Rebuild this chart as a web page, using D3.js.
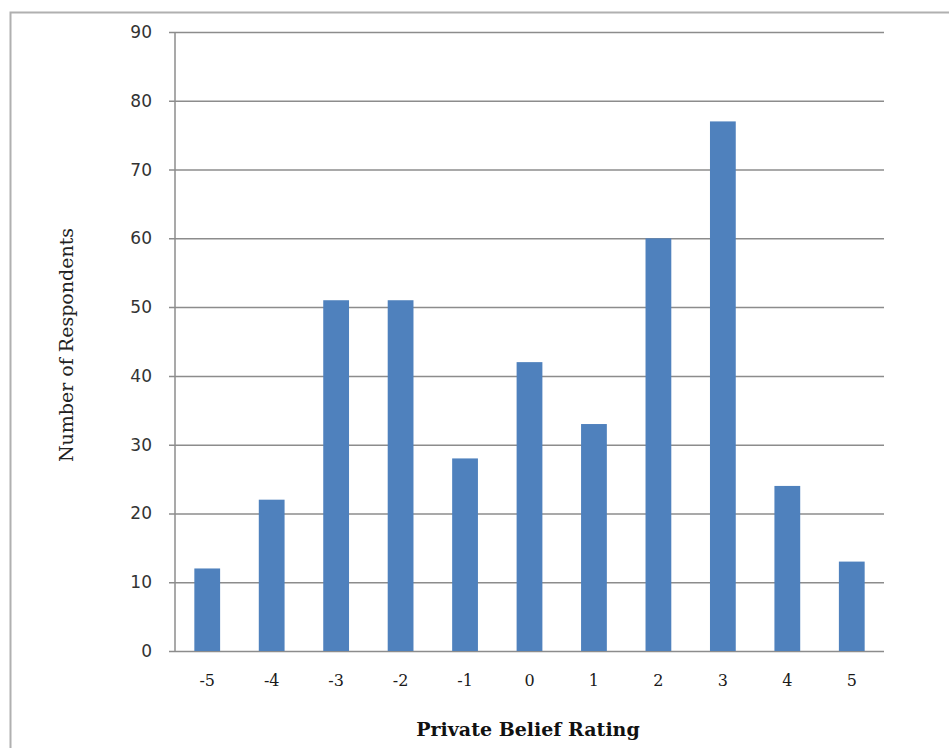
<!DOCTYPE html>
<html>
<head>
<meta charset="utf-8">
<script src="https://cdn.jsdelivr.net/npm/d3@7"></script>
<style>
  body { margin: 0; background: #fff; }
  svg { display: block; }
</style>
</head>
<body>
<div id="chart"></div>
<script>
// data
var ratings = ["-5", "-4", "-3", "-2", "-1", "0", "1", "2", "3", "4", "5"];
var respondents = [12, 22, 51, 51, 28, 42, 33, 60, 77, 24, 13];
var yTicks = [0, 10, 20, 30, 40, 50, 60, 70, 80, 90];

var W = 949, H = 748;
var margin = {left: 175, right: 65, top: 32, bottom: 97};

var svg = d3.select("#chart").append("svg")
  .attr("width", W)
  .attr("height", H);

// outer frame, runs off the right and bottom edges
svg.append("rect")
  .attr("x", 10.5).attr("y", 12.5)
  .attr("width", W).attr("height", H)
  .attr("fill", "none")
  .attr("stroke", "#b0b0b0")
  .attr("stroke-width", 2);

var x = d3.scaleBand()
  .domain(ratings)
  .range([margin.left, W - margin.right])
  .paddingInner(0.6)
  .paddingOuter(0.3);

var y = d3.scaleLinear()
  .domain([0, 90])
  .range([H - margin.bottom, margin.top]);

// gridlines + y labels
var yAxis = svg.append("g")
  .attr("transform", "translate(" + margin.left + ",0)")
  .call(d3.axisLeft(y).tickValues(yTicks).tickSize(-(W - margin.right - margin.left)).tickPadding(23));
yAxis.select(".domain").remove();
yAxis.selectAll(".tick line")
  .attr("x1", -6)
  .attr("stroke", "#8c8c8c")
  .attr("stroke-width", 1.5);
yAxis.selectAll(".tick text")
  .style("font-family", "'DejaVu Sans', Verdana, sans-serif")
  .style("font-size", "17px")
  .attr("fill", "#333");

// vertical axis line
svg.append("line")
  .attr("x1", margin.left).attr("x2", margin.left)
  .attr("y1", y(90)).attr("y2", y(0))
  .attr("stroke", "#8c8c8c")
  .attr("stroke-width", 1.5);

// bars
svg.selectAll("rect.bar")
  .data(respondents)
  .enter()
  .append("rect")
  .attr("class", "bar")
  .attr("x", function(d, i){ return x(ratings[i]); })
  .attr("width", x.bandwidth())
  .attr("y", function(d){ return y(d); })
  .attr("height", function(d){ return y(0) - y(d); })
  .attr("fill", "#4f81bd");

// x labels
var xAxis = svg.append("g")
  .attr("transform", "translate(0," + y(0) + ")")
  .call(d3.axisBottom(x).tickSize(0).tickPadding(24));
xAxis.select(".domain").remove();
xAxis.selectAll(".tick text")
  .style("font-family", "'DejaVu Serif', Cambria, serif")
  .style("font-size", "16px")
  .attr("fill", "#1a1a1a");

// axis titles
svg.append("text")
  .attr("x", 528)
  .attr("y", 736)
  .attr("text-anchor", "middle")
  .style("font-family", "'DejaVu Serif', Cambria, serif")
  .style("font-weight", "bold")
  .style("font-size", "19px")
  .attr("fill", "#111")
  .text("Private Belief Rating");

svg.append("text")
  .attr("transform", "translate(73,345) rotate(-90)")
  .attr("text-anchor", "middle")
  .style("font-family", "'DejaVu Serif', Cambria, serif")
  .style("font-size", "19px")
  .attr("fill", "#222")
  .text("Number of Respondents");
</script>
</body>
</html>
